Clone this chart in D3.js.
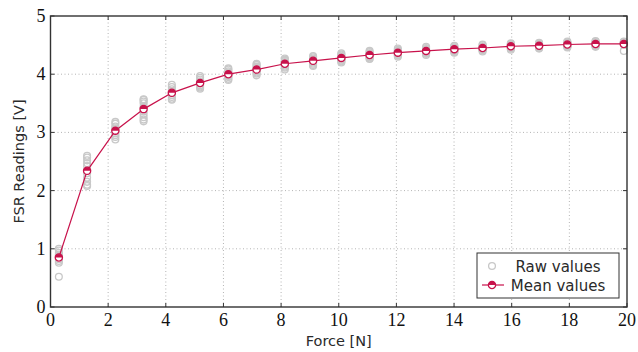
<!DOCTYPE html>
<html lang="en">
<head>
<meta charset="UTF-8">
<title>FSR Readings</title>
<script src="https://d3js.org/d3.v7.min.js"></script>
<style>
    body { margin: 0; background: #fff; }
    svg { display: block; }
    .tick-label { font-family: "Liberation Serif", serif; font-size: 18px; fill: #111; }
    .axis-title { font-family: "DejaVu Sans", sans-serif; font-size: 14.5px; fill: #2a2a2a; }
    .legend-text { font-family: "DejaVu Sans", sans-serif; font-size: 15px; fill: #2a2a2a; }
</style>
</head>
<body>
<div id="chart"></div>
<script>
// force positions for each measurement step
const forces = [0.29, 1.27, 2.25, 3.23, 4.21, 5.19, 6.17, 7.15, 8.13, 9.11, 10.09,
    11.07, 12.05, 13.03, 14.01, 14.99, 15.97, 16.95, 17.93, 18.91, 19.89];

// raw readings, one row per force step
const rawValues = [
    [1.00, 0.97, 0.93, 0.90, 0.88, 0.86, 0.82, 0.79, 0.76, 0.52],
    [2.60, 2.57, 2.52, 2.47, 2.42, 2.30, 2.22, 2.15, 2.10, 2.08],
    [3.18, 3.15, 3.10, 3.07, 3.04, 3.02, 2.98, 2.95, 2.92, 2.88],
    [3.57, 3.56, 3.53, 3.50, 3.44, 3.36, 3.31, 3.26, 3.22, 3.19],
    [3.82, 3.78, 3.74, 3.71, 3.69, 3.67, 3.64, 3.61, 3.58, 3.56],
    [3.97, 3.94, 3.91, 3.88, 3.86, 3.84, 3.81, 3.79, 3.77, 3.75],
    [4.10, 4.08, 4.05, 4.03, 4.01, 3.99, 3.97, 3.95, 3.92, 3.90],
    [4.18, 4.16, 4.13, 4.11, 4.09, 4.07, 4.05, 4.03, 4.01, 3.98],
    [4.27, 4.25, 4.23, 4.21, 4.19, 4.17, 4.15, 4.13, 4.11, 4.08],
    [4.31, 4.29, 4.27, 4.25, 4.23, 4.22, 4.20, 4.18, 4.16, 4.14],
    [4.36, 4.34, 4.32, 4.30, 4.28, 4.27, 4.25, 4.23, 4.22, 4.20],
    [4.40, 4.38, 4.36, 4.35, 4.33, 4.32, 4.30, 4.29, 4.27, 4.26],
    [4.44, 4.42, 4.40, 4.39, 4.37, 4.36, 4.35, 4.33, 4.32, 4.30],
    [4.47, 4.45, 4.43, 4.42, 4.40, 4.39, 4.38, 4.36, 4.35, 4.33],
    [4.49, 4.48, 4.46, 4.45, 4.43, 4.42, 4.41, 4.40, 4.38, 4.37],
    [4.51, 4.50, 4.48, 4.47, 4.45, 4.44, 4.43, 4.42, 4.41, 4.39],
    [4.53, 4.52, 4.51, 4.50, 4.48, 4.47, 4.46, 4.45, 4.44, 4.42],
    [4.54, 4.53, 4.52, 4.51, 4.49, 4.48, 4.47, 4.47, 4.45, 4.44],
    [4.56, 4.55, 4.54, 4.53, 4.51, 4.50, 4.49, 4.48, 4.47, 4.46],
    [4.57, 4.56, 4.55, 4.54, 4.52, 4.51, 4.50, 4.49, 4.48, 4.47],
    [4.56, 4.55, 4.55, 4.54, 4.53, 4.53, 4.52, 4.52, 4.51, 4.40]
];

const meanValues = [0.85, 2.34, 3.03, 3.40, 3.68, 3.85, 4.00, 4.08, 4.18, 4.23, 4.28,
    4.33, 4.37, 4.40, 4.43, 4.45, 4.48, 4.49, 4.51, 4.52, 4.52];

const xTicks = [0, 2, 4, 6, 8, 10, 12, 14, 16, 18, 20];
const yTicks = [0, 1, 2, 3, 4, 5];

const width = 638, height = 352;
const margin = { top: 16, right: 11, bottom: 45, left: 50.5 };
const meanColor = "#c8124b";
const rawColor = "#c8c8c8";

const svg = d3.select("#chart").append("svg")
    .attr("width", width)
    .attr("height", height);

const x = d3.scaleLinear().domain([0, 20]).range([margin.left, width - margin.right]);
const y = d3.scaleLinear().domain([0, 5]).range([height - margin.bottom, margin.top]);

// dotted grid
const grid = svg.append("g")
    .attr("stroke", "#b4b4b4")
    .attr("stroke-width", 1)
    .attr("stroke-dasharray", "1,2.5");
grid.selectAll("line.vx").data(xTicks.slice(1, -1)).join("line")
    .attr("x1", d => x(d)).attr("x2", d => x(d))
    .attr("y1", y(0)).attr("y2", y(5));
grid.selectAll("line.hy").data(yTicks.slice(1, -1)).join("line")
    .attr("x1", x(0)).attr("x2", x(20))
    .attr("y1", d => y(d)).attr("y2", d => y(d));

// raw values
const rawPoints = [];
forces.forEach((f, i) => rawValues[i].forEach(v => rawPoints.push({ f, v })));
svg.append("g").selectAll("circle").data(rawPoints).join("circle")
    .attr("cx", d => x(d.f))
    .attr("cy", d => y(d.v))
    .attr("r", 3.4)
    .attr("fill", "none")
    .attr("stroke", rawColor)
    .attr("stroke-width", 1.3);

// mean line
const line = d3.line().x((d, i) => x(forces[i])).y(d => y(d));
svg.append("path")
    .datum(meanValues)
    .attr("d", line)
    .attr("fill", "none")
    .attr("stroke", meanColor)
    .attr("stroke-width", 1.2);

// half filled circle marker
function halfMarker(g, r) {
    g.append("circle").attr("r", r).attr("fill", "#fff");
    g.append("path")
        .attr("d", `M${-r},0 A${r},${r} 0 0 1 ${r},0 Z`)
        .attr("fill", meanColor);
    g.append("circle").attr("r", r).attr("fill", "none")
        .attr("stroke", meanColor).attr("stroke-width", 1.3);
}

svg.append("g").selectAll("g").data(meanValues).join("g")
    .attr("transform", (d, i) => `translate(${x(forces[i])},${y(d)})`)
    .each(function () { halfMarker(d3.select(this), 3.6); });

// axis frame
svg.append("rect")
    .attr("x", x(0)).attr("y", y(5))
    .attr("width", x(20) - x(0)).attr("height", y(0) - y(5))
    .attr("fill", "none")
    .attr("stroke", "#333")
    .attr("stroke-width", 1.4);

// inward ticks
const ticks = svg.append("g").attr("stroke", "#333").attr("stroke-width", 1);
ticks.selectAll("line.bx").data(xTicks).join("line")
    .attr("x1", d => x(d)).attr("x2", d => x(d))
    .attr("y1", y(0)).attr("y2", y(0) - 4);
ticks.selectAll("line.tx").data(xTicks).join("line")
    .attr("x1", d => x(d)).attr("x2", d => x(d))
    .attr("y1", y(5)).attr("y2", y(5) + 4);
ticks.selectAll("line.ly").data(yTicks).join("line")
    .attr("x1", x(0)).attr("x2", x(0) + 4)
    .attr("y1", d => y(d)).attr("y2", d => y(d));
ticks.selectAll("line.ry").data(yTicks).join("line")
    .attr("x1", x(20)).attr("x2", x(20) - 4)
    .attr("y1", d => y(d)).attr("y2", d => y(d));

// tick labels
svg.append("g").selectAll("text").data(xTicks).join("text")
    .attr("class", "tick-label")
    .attr("x", d => x(d))
    .attr("y", y(0) + 19)
    .attr("text-anchor", "middle")
    .text(d => d);
svg.append("g").selectAll("text").data(yTicks).join("text")
    .attr("class", "tick-label")
    .attr("x", x(0) - 5)
    .attr("y", d => y(d) + 6)
    .attr("text-anchor", "end")
    .text(d => d);

// axis titles
svg.append("text")
    .attr("class", "axis-title")
    .attr("x", (x(0) + x(20)) / 2)
    .attr("y", 346)
    .attr("text-anchor", "middle")
    .text("Force [N]");
svg.append("text")
    .attr("class", "axis-title")
    .attr("transform", `translate(24,${(y(0) + y(5)) / 2}) rotate(-90)`)
    .attr("text-anchor", "middle")
    .text("FSR Readings [V]");

// legend
const legend = svg.append("g").attr("transform", "translate(477,253)");
legend.append("rect")
    .attr("width", 142).attr("height", 45)
    .attr("fill", "#fff")
    .attr("stroke", "#333")
    .attr("stroke-width", 1);
legend.append("circle")
    .attr("cx", 15).attr("cy", 13).attr("r", 3.4)
    .attr("fill", "none").attr("stroke", rawColor).attr("stroke-width", 1.3);
legend.append("text").attr("class", "legend-text")
    .attr("x", 81).attr("y", 18.5).attr("text-anchor", "middle").text("Raw values");
legend.append("line")
    .attr("x1", 5).attr("x2", 27).attr("y1", 32).attr("y2", 32)
    .attr("stroke", meanColor).attr("stroke-width", 1.2);
halfMarker(legend.append("g").attr("transform", "translate(15,32)"), 3.6);
legend.append("text").attr("class", "legend-text")
    .attr("x", 81).attr("y", 37.5).attr("text-anchor", "middle").text("Mean values");
</script>
</body>
</html>
